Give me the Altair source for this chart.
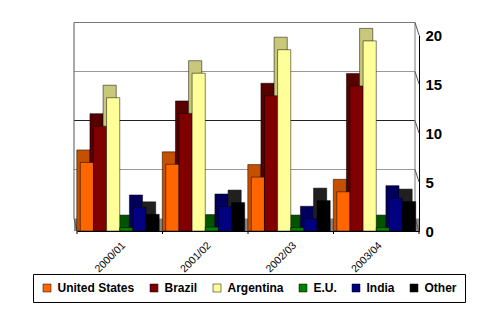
import json
import altair as alt
import pandas as pd

years = ["2000/01", "2001/02", "2002/03", "2003/04"]
series = ["United States", "Brazil", "Argentina", "E.U.", "India", "Other"]
us = [7.0, 6.8, 5.5, 4.0]
brazil = [10.7, 12.0, 13.8, 14.8]
argentina = [13.6, 16.1, 18.5, 19.4]
eu = [0.35, 0.4, 0.35, 0.35]
india = [2.4, 2.5, 1.25, 3.35]
other = [1.7, 2.9, 3.1, 3.0]
front_colors = ["#FF6600", "#800000", "#FFFF99", "#008000", "#000080", "#000000"]
side_colors = ["#C45000", "#560000", "#C8C87A", "#005400", "#00005C", "#202020"]
light_grid = [5, 15]
dark_grid = [10]
top_grid = [20]
axis_values = [0, 5, 10, 15, 20]

GROUP = len(series) + 0.5  # slots per category group (bars + gap)
rows = []
for si, (s, vals) in enumerate(zip(series, [us, brazil, argentina, eu, india, other])):
    for yi, (y, v) in enumerate(zip(years, vals)):
        rows.append({"year": y, "series": s, "value": v,
                     "p0": yi * GROUP + 0.25 + si, "p1": yi * GROUP + 1.25 + si})
df = pd.DataFrame(rows)
tick_df = pd.DataFrame({"v": axis_values})
bound_df = pd.DataFrame({"b": [i * GROUP for i in range(len(years) + 1)]})
centers = [i * GROUP + GROUP / 2 for i in range(len(years))]

FONT = "Liberation Sans"
W, H = 342, 196
DX, DY = -3.5, -12.5

yscale = alt.Scale(domain=[0, 20], nice=False, zero=True)
xscale = alt.Scale(domain=[0, GROUP * len(years)], nice=False, zero=True)

label_expr = "%s[round((datum.value - %s) / %s)]" % (json.dumps(years), GROUP / 2, GROUP)

XAXIS = alt.Axis(title=None, values=centers, labelExpr=label_expr, grid=False,
                 labelAngle=-45, labelFontSize=10.5, labelFont=FONT,
                 labelColor="#000000", domainColor="#000000", ticks=False,
                 labelPadding=9, labelAlign="right", labelBaseline="top")
YAXIS = alt.Axis(orient="right", title=None, values=axis_values, grid=False,
                 ticks=False, labelFontSize=15, labelFontWeight="bold",
                 labelFont=FONT, labelColor="#000000", domainColor="#000000",
                 labelPadding=6)


def Y(field):
    return alt.Y(field, scale=yscale, axis=YAXIS)


def X(field):
    return alt.X(field, scale=xscale, axis=XAXIS)


floor = alt.Chart(tick_df).transform_filter("datum.v == 0").mark_rect(
    color="#8a8a8a", yOffset=DY, y2Offset=0
).encode(x=alt.value(-3), x2=alt.value(W), y=Y("v:Q"), y2="v")


def grid_layer(vals, col):
    return alt.Chart(pd.DataFrame({"v": vals})).mark_rule(
        strokeWidth=1, color=col, yOffset=DY, y2Offset=DY
    ).encode(x=alt.value(-3), x2=alt.value(W - 4), y=Y("v:Q"), y2="v")


grid1 = grid_layer(light_grid, "#999999")
grid2 = grid_layer(dark_grid, "#222222")
grid3 = grid_layer(top_grid, "#777777")

wall_df = pd.DataFrame({"lo": [min(axis_values)], "hi": [max(axis_values)]})
wall_l = alt.Chart(wall_df).mark_rule(color="#555555", yOffset=DY, y2Offset=DY).encode(
    x=alt.value(-3), y=Y("lo:Q"), y2="hi:Q"
)
wall_r = alt.Chart(wall_df).mark_rule(color="#777777", yOffset=DY, y2Offset=DY).encode(
    x=alt.value(W - 4), y=Y("lo:Q"), y2="hi:Q"
)
diag = alt.Chart(tick_df).mark_rule(color="#555555", yOffset=DY, y2Offset=0).encode(
    x=alt.value(W - 4), x2=alt.value(W), y=Y("v:Q"), y2="v"
)
diag_l = alt.Chart(wall_df).mark_rule(color="#555555", yOffset=DY, y2Offset=0).encode(
    x=alt.value(-3), x2=alt.value(0), y=Y("lo:Q"), y2="lo:Q"
)

back = alt.Chart(df).transform_calculate(shade="datum.series").mark_bar(
    xOffset=DX, x2Offset=DX, yOffset=DY, y2Offset=0, stroke="#000000", strokeWidth=0.5
).encode(
    x=X("p0:Q"), x2="p1:Q", y=Y("value:Q"), y2=alt.datum(0),
    fill=alt.Fill("shade:N", sort=series,
                  scale=alt.Scale(domain=series, range=side_colors), legend=None),
)

front = alt.Chart(df).mark_bar(stroke="#000000", strokeWidth=0.5).encode(
    x=X("p0:Q"), x2="p1:Q", y=Y("value:Q"), y2=alt.datum(0),
    color=alt.Color("series:N", sort=series,
                    scale=alt.Scale(domain=series, range=front_colors),
                    legend=alt.Legend(title=None, orient="none", legendX=-44, legendY=239,
                                      direction="horizontal", strokeColor="#000000",
                                      fillColor="#FFFFFF", padding=8, labelFont=FONT,
                                      labelFontSize=12, labelFontWeight="bold",
                                      labelColor="#000000", symbolType="square",
                                      symbolSize=64, symbolStrokeColor="#000000",
                                      symbolStrokeWidth=0.5, symbolOpacity=1,
                                      columnPadding=13, labelOffset=4.5)),
)

xticks = alt.Chart(bound_df).mark_rule(color="#000000").encode(
    x=X("b:Q"), y=alt.value(H), y2=alt.value(H + 3)
)

chart = alt.layer(floor, grid1, grid2, grid3, wall_l, wall_r, diag, diag_l, back, front,
                  xticks).resolve_scale(fill="independent", color="independent").properties(
    width=W, height=H, autosize=alt.AutoSizeParams(type="none"),
    padding={"left": 77, "top": 35, "right": 500 - 77 - W, "bottom": 332 - 35 - H},
    background="#FFFFFF",
).configure_view(strokeWidth=0)

chart.save("out.html", embed_options={"renderer": "svg", "actions": False})
